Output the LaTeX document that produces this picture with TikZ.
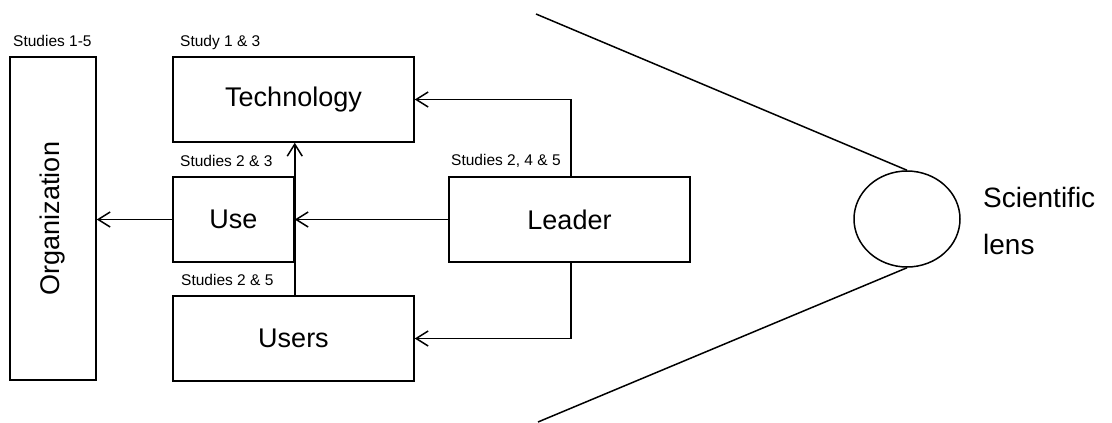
\documentclass[tikz,border=0pt]{standalone}
\usepackage{fontspec}
\setmainfont{Liberation Sans}
\usetikzlibrary{arrows.meta,shapes.geometric}
\begin{document}
\begin{tikzpicture}[x=1pt,y=-1pt,
  box/.style={draw, line width=1.5pt, rectangle, inner sep=0pt,
    font=\fontsize{27}{32}\selectfont},
  studylabel/.style={anchor=base west, inner sep=0pt,
    font=\fontsize{15.5}{18}\selectfont},
  conn/.style={line width=1.5pt, -{Straight Barb[length=12pt,width=15pt,line width=1.5pt]}},
  ray/.style={line width=1.5pt}]
\useasboundingbox (0,0) rectangle (1112,423);

% boxes
\node[box, minimum width=86pt, minimum height=323pt] (org) at (53,218.5)
  {\rotatebox{90}{Organization}};
\node[box, minimum width=241pt, minimum height=85pt] (tech) at (293.5,99.5) {Technology};
\node[box, minimum width=121pt, minimum height=85pt] (use) at (233.5,219.5) {Use};
\node[box, minimum width=241pt, minimum height=85pt] (users) at (293.5,338.5) {Users};
\node[box, minimum width=241pt, minimum height=85pt] (lead) at (569.5,219.5) {Leader};

% study labels
\node[studylabel] (lorg) at (13,46) {Studies 1-5};
\node[studylabel] (ltech) at (180,46) {Study 1 \& 3};
\node[studylabel] (luse) at (180,166) {Studies 2 \& 3};
\node[studylabel] (lusers) at (181,285) {Studies 2 \& 5};
\node[studylabel] (llead) at (451,165) {Studies 2, 4 \& 5};

% connectors
\coordinate (ltap) at ([xshift=1.5pt]lead.north);
\coordinate (lbtap) at ([xshift=1.5pt]lead.south);
\draw[conn] (use.west) -- (org.east |- use.west);
\draw[conn] (lead.west) -- (use.east);
\draw[conn] (ltap) |- (tech.east);
\draw[conn] (lbtap) |- (users.east);
\draw[conn] (users.north -| use.east) -- (tech.south -| use.east);

% scientific lens
\node[ellipse, draw, line width=1.5pt, minimum width=106pt, minimum height=96pt,
  inner sep=0pt] (lens) at (907,219) {};
\coordinate (raytop) at (536,14);
\coordinate (raybot) at (538,422);
\draw[ray] (raytop) -- (lens.north);
\draw[ray] (raybot) -- (lens.south);
\node[anchor=west, align=left, inner sep=0pt,
  font=\fontsize{28}{47}\selectfont] (sci) at (983,221) {Scientific\\lens};
\end{tikzpicture}
\end{document}
